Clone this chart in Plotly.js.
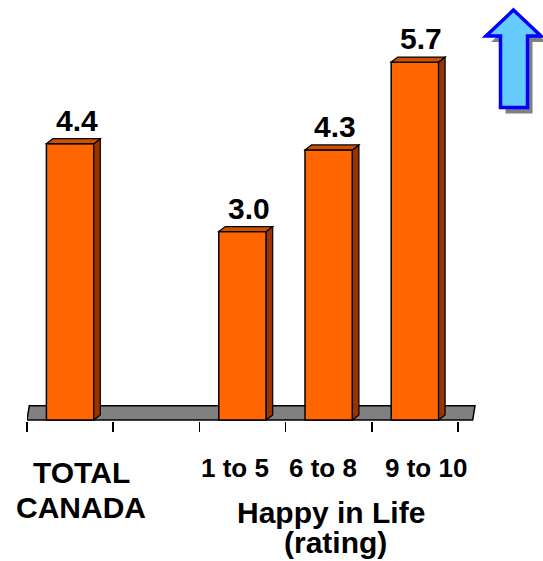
<!DOCTYPE html>
<html>
<head>
<meta charset="utf-8">
<script src="https://cdn.plot.ly/plotly-3.0.1.min.js"></script>
<style>html,body{margin:0;padding:0;background:#fff;overflow:hidden}</style>
</head>
<body>
<div id="chart" style="width:543px;height:561px"></div>
<script>
// ---- data ----
const groupLabels = ['TOTAL<br>CANADA', '1 to 5', '6 to 8', '9 to 10'];
const slots = [0, 2, 3, 4];            // category slot of each bar (slot 1 is a gap)
const values = [4.4, 3.0, 4.3, 5.7];
const groupTitle = ['Happy in Life', '(rating)'];

// ---- geometry / style ----
const W = 543, H = 561;
const M = {l: 27, r: 63, t: 6, b: 140};
const pw = W - M.l - M.r, ph = H - M.t - M.b;
const xPer = 86.2, yPer = 62.8;           // px per x unit, px per y unit
const xRange = [-0.5, -0.5 + pw / xPer];
const yMin = -1 / yPer;
const yRange = [yMin, yMin + ph / yPer];
const DX = 6.5 / xPer, DY = 5 / yPer;     // 3D depth
const BW = 0.55;
const FONT = 'Liberation Sans, Arial, Helvetica, sans-serif';
const labelNudge = [11, -8, -5.5, 11];
const ORANGE = '#FF6600', SIDE = '#993300', TOP = '#CC5200';

const shapes = [];
// floor slab
const fx0 = -0.5, fx1 = -0.5 + (472.7 - M.l) / xPer, fsk = 2.3 / xPer, fdy = 14.3 / yPer;
shapes.push({
  type: 'path', xref: 'x', yref: 'y', layer: 'below',
  path: `M ${fx0},0 L ${fx1},0 L ${fx1 + fsk},${fdy} L ${fx0 + fsk},${fdy} Z`,
  fillcolor: '#808080', line: {color: '#000', width: 1.5}
});
// 3D faces of bars
slots.forEach((s, i) => {
  const v = values[i], l = s - BW / 2, r = s + BW / 2;
  shapes.push({
    type: 'path', xref: 'x', yref: 'y',
    path: `M ${r},0 L ${r + DX},${DY} L ${r + DX},${v + DY} L ${r},${v} Z`,
    fillcolor: SIDE, line: {color: '#000', width: 1.2}
  });
  shapes.push({
    type: 'path', xref: 'x', yref: 'y',
    path: `M ${l},${v} L ${l + DX},${v + DY} L ${r + DX},${v + DY} L ${r},${v} Z`,
    fillcolor: TOP, line: {color: '#000', width: 1.2}
  });
});
// decorative up arrow (pixel coords -> paper)
const px = x => (x - M.l) / pw, py = y => (H - M.b - y) / ph;
function arrowPath(ox, oy) {
  const pts = [[513.5, 10], [541, 36], [527.5, 36], [527.5, 107.5], [500.5, 107.5], [500.5, 36], [486, 36]];
  return 'M ' + pts.map(p => `${px(p[0] + ox)},${py(p[1] + oy)}`).join(' L ') + ' Z';
}
shapes.push({type: 'path', xref: 'paper', yref: 'paper', path: arrowPath(5, 6),
  fillcolor: '#808080', line: {width: 0}});
shapes.push({type: 'path', xref: 'paper', yref: 'paper', path: arrowPath(0, 0),
  fillcolor: '#66CCFF', line: {color: '#0000FF', width: 3.5}});

const annotations = [];
// value labels
slots.forEach((s, i) => {
  annotations.push({
    x: s + DX, y: values[i] + DY, xref: 'x', yref: 'y',
    text: values[i].toFixed(1), showarrow: false, xanchor: 'center', yanchor: 'bottom', xshift: 0,
    font: {family: FONT, size: 30, color: '#000', weight: 'bold'}
  });
});
// category labels
groupLabels.forEach((lab, i) => {
  const lines = lab.split('<br>');
  const big = lines.length > 1;
  lines.forEach((t, j) => {
    annotations.push({
      x: slots[i], y: 0, xref: 'x', yref: 'paper', text: t, showarrow: false,
      xanchor: 'center', yanchor: 'top', xshift: labelNudge[i],
      yshift: big ? -32.5 - 35 * j : -30,
      font: {family: FONT, size: big ? 30 : 26, color: '#000', weight: 'bold'}
    });
  });
});
// group title
groupTitle.forEach((t, j) => {
  annotations.push({
    x: 3, y: 0, xref: 'x', yref: 'paper', text: t, showarrow: false,
    xanchor: 'center', yanchor: 'top', xshift: j === 0 ? 2.5 : 6.5, yshift: j === 0 ? -73 : -102.5,
    font: {family: FONT, size: 30, color: '#000', weight: 'bold'}
  });
});

const trace = {
  type: 'bar', x: slots, y: values, width: BW,
  marker: {color: ORANGE, line: {color: '#000', width: 1.5}},
  hoverinfo: 'skip'
};

const layout = {
  width: W, height: H, margin: M, paper_bgcolor: '#fff', plot_bgcolor: 'rgba(0,0,0,0)',
  showlegend: false,
  xaxis: {range: xRange, tickmode: 'array', tickvals: [-0.5, 0.5, 1.5, 2.5, 3.5, 4.5],
    showticklabels: false, ticks: 'outside', ticklen: 10, tickwidth: 1.5, tickcolor: '#000',
    showgrid: false, zeroline: false, showline: false, fixedrange: true},
  yaxis: {range: yRange, visible: false, showgrid: false, zeroline: false, fixedrange: true},
  shapes: shapes, annotations: annotations
};

Plotly.newPlot('chart', [trace], layout, {staticPlot: true, displayModeBar: false});
</script>
</body>
</html>
